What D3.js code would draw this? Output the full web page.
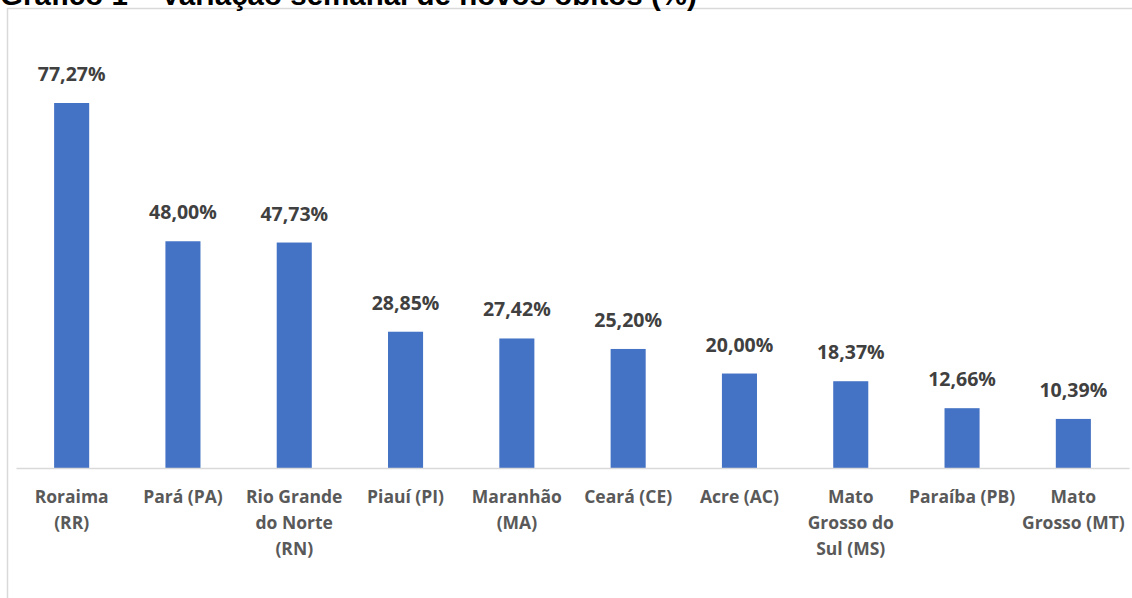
<!DOCTYPE html>
<html>
<head>
<meta charset="utf-8">
<script src="https://cdn.jsdelivr.net/npm/d3@7"></script>
<style>
  html, body { margin: 0; padding: 0; background: #fff; overflow: hidden; }
  svg { display: block; font-family: 'Open Sans', sans-serif; }
</style>
</head>
<body>
<div id="chart"></div>
<script>
const categories = [
    'Roraima\n(RR)',
    'Pará (PA)',
    'Rio Grande\ndo Norte\n(RN)',
    'Piauí (PI)',
    'Maranhão\n(MA)',
    'Ceará (CE)',
    'Acre (AC)',
    'Mato\nGrosso do\nSul (MS)',
    'Paraíba (PB)',
    'Mato\nGrosso (MT)'
];
const values = [77.27, 48.00, 47.73, 28.85, 27.42, 25.20, 20.00, 18.37, 12.66, 10.39];
const title = 'Gráfico 1 – Variação semanal de novos óbitos (%)';

const width = 1132;
const height = 598;
const baseY = 468;

const svg = d3.select('#chart')
    .append('svg')
    .attr('width', width)
    .attr('height', height);

// frame of the chart area
svg.append('rect')
    .attr('x', 7.5)
    .attr('y', 8.5)
    .attr('width', width + 20)
    .attr('height', height + 20)
    .attr('fill', '#fff')
    .attr('stroke', '#d9d9d9')
    .attr('stroke-width', 1.5);

svg.append('text')
    .attr('x', 0)
    .attr('y', 5)
    .attr('font-family', "'Liberation Sans', Arial, sans-serif")
    .attr('font-size', 29.5)
    .attr('font-weight', 'bold')
    .attr('fill', '#000')
    .text(title);

const x = d3.scaleBand()
    .domain(categories)
    .range([16, 1129])
    .paddingInner(0.685)
    .paddingOuter(0.3425);

const y = d3.scaleLinear()
    .domain([0, 77.27])
    .range([baseY, 103]);

svg.selectAll('.bar')
    .data(values)
    .enter().append('rect')
    .attr('class', 'bar')
    .attr('x', (d, i) => x(categories[i]))
    .attr('width', x.bandwidth())
    .attr('y', d => y(d))
    .attr('height', d => y(0) - y(d))
    .attr('fill', '#4472c4');

svg.selectAll('.val')
    .data(values)
    .enter().append('text')
    .attr('class', 'val')
    .attr('x', (d, i) => x(categories[i]) + x.bandwidth() / 2)
    .attr('y', d => y(d) - 22)
    .attr('text-anchor', 'middle')
    .attr('font-size', 19.5)
    .attr('font-weight', 'bold')
    .attr('fill', '#404040')
    .text(d => d.toFixed(2).replace('.', ',') + '%');

const axis = svg.append('g')
    .attr('transform', `translate(0,${baseY})`)
    .call(d3.axisBottom(x).tickSize(0).tickFormat(''));

axis.select('.domain')
    .attr('stroke', '#d9d9d9')
    .attr('stroke-width', 1.5);

categories.forEach((c, i) => {
    const t = svg.append('text')
        .attr('x', x(c) + x.bandwidth() / 2)
        .attr('y', 503)
        .attr('text-anchor', 'middle')
        .attr('font-size', 17.5)
        .attr('font-weight', 'bold')
        .attr('fill', '#595959');
    c.split('\n').forEach((line, j) => {
        t.append('tspan')
            .attr('x', x(c) + x.bandwidth() / 2)
            .attr('dy', j === 0 ? 0 : 26)
            .text(line);
    });
});
</script>
</body>
</html>
